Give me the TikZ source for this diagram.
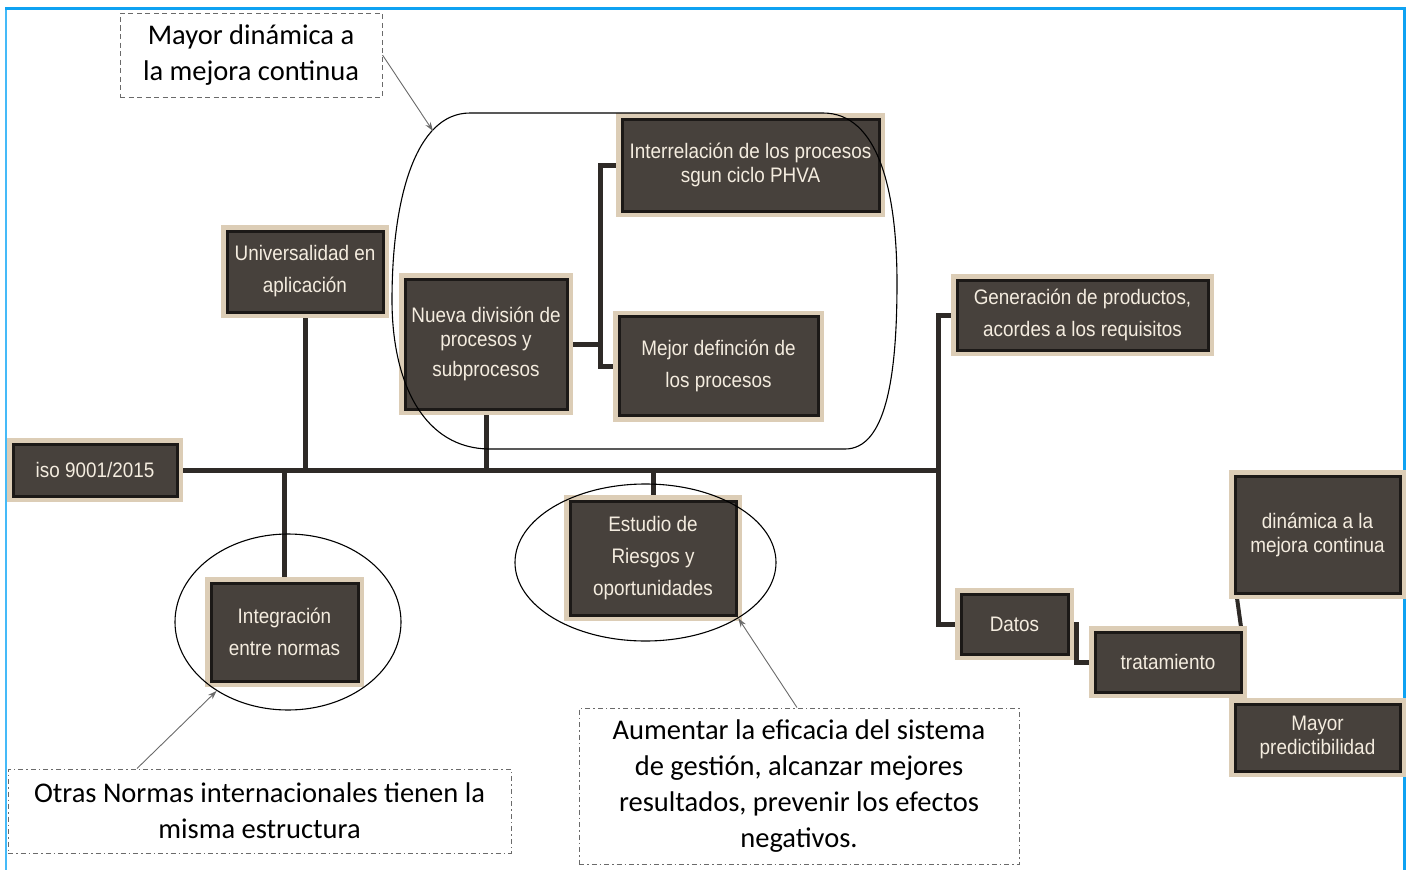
\documentclass[tikz,border=0pt]{standalone}
\usepackage{fontspec}
\setmainfont{Carlito}
\newfontfamily\boxfont[FakeStretch=0.9]{Liberation Sans}
\usetikzlibrary{shapes.geometric,arrows.meta,calc}
\pgfdeclarelayer{background}
\pgfsetlayers{background,main}

\definecolor{boxfill}{HTML}{47413C}
\definecolor{boxedge}{HTML}{1C1917}
\definecolor{boxrim}{HTML}{DCCDB6}
\definecolor{boxtext}{HTML}{F4ECDF}
\definecolor{wire}{HTML}{2E2A27}
\definecolor{frameblue}{HTML}{0EA2F2}
\definecolor{frameleft}{HTML}{45BAF8}
\definecolor{notegray}{HTML}{6A6A6A}

\tikzset{
  topic/.style={draw=boxedge, line width=3pt, fill=boxfill, text=boxtext,
    align=center, inner sep=0pt,
    font=\boxfont\fontsize{21}{24}\selectfont,
    preaction={draw=boxrim, line width=12pt, rounded corners=3pt}},
  wideline/.style={font=\boxfont\fontsize{21}{32}\selectfont},
  wire/.style={draw=wire, line width=5pt},
  ring/.style={draw=black, line width=1.1pt},
  ringnode/.style={ring, ellipse, inner sep=0pt},
  notebox/.style={draw=notegray, line width=1pt, align=center, inner sep=0pt,
    font=\fontsize{28.5}{36}\selectfont, text=black},
  dashnote/.style={notebox, dash pattern=on 5pt off 3.5pt},
  dotdashnote/.style={notebox, dash pattern=on 5pt off 3pt on 1.5pt off 3pt},
  pointer/.style={draw=notegray, line width=0.9pt, -{Stealth[length=9pt,width=6pt]}},
}

\begin{document}
\begin{tikzpicture}[x=1pt,y=-1pt]
\useasboundingbox (0,0) rectangle (1409,870);

% page frame
\draw[frameleft, line width=2pt] (6,870) -- (6,8);
\draw[frameblue, line width=3pt] (5,8) -- (1404,8) -- (1404,870);

% topic boxes
\node[topic, minimum width=164pt, minimum height=52pt] (iso) at (95,470) {iso 9001/2015};
\node[topic, wideline, minimum width=156pt, minimum height=81pt] (univ) at (305,271.5) {Universalidad en\\aplicación};
\node[topic, minimum width=162pt, minimum height=130pt] (nueva) at (486,344) {Nueva división de\\procesos y\\[6pt]subprocesos};
\node[topic, minimum width=257pt, minimum height=92pt] (inter) at (750.5,165) {Interrelación de los procesos\\sgun ciclo PHVA};
\node[topic, wideline, minimum width=199pt, minimum height=99pt] (mejor) at (718.5,366) {Mejor definción de\\los procesos};
\node[topic, wideline, minimum width=251pt, minimum height=70pt] (gen) at (1082.5,315) {Generación de productos,\\acordes a los requisitos};
\node[topic, wideline, minimum width=166pt, minimum height=114pt] (estudio) at (653,558) {Estudio de\\Riesgos y\\oportunidades};
\node[topic, wideline, minimum width=147pt, minimum height=98pt] (integ) at (284.5,632) {Integración\\entre normas};
\node[topic, minimum width=107pt, minimum height=60pt] (datos) at (1014.5,624) {Datos};
\node[topic, minimum width=146pt, minimum height=60pt] (trat) at (1168,662) {tratamiento};
\node[topic, minimum width=165pt, minimum height=117pt] (dinam) at (1317.5,534.5) {dinámica a la\\mejora continua};
\node[topic, minimum width=165pt, minimum height=67pt] (predic) at (1317.5,737.5) {Mayor\\predictibilidad};

% connectors
\coordinate (spineEnd) at (938,470);
\coordinate (split) at (600,344);
\begin{pgfonlayer}{background}
  \draw[wire] (iso.east) -- (spineEnd);
  \draw[wire] (univ.south) -- (univ.south |- spineEnd);
  \draw[wire] (integ.north) -- (integ.north |- spineEnd);
  \draw[wire] (nueva.south) -- (nueva.south |- spineEnd);
  \draw[wire] (estudio.north) -- (estudio.north |- spineEnd);
  \draw[wire] (spineEnd) |- (gen.west);
  \draw[wire] (spineEnd) |- (datos.west);
  \draw[wire] (nueva.east) -- (split) |- (inter.west);
  \draw[wire] (split) |- (mejor.west);
  \draw[wire] (datos.east) -- ++(7,0) |- (trat.west);
  \draw[wire, line width=4pt] ([xshift=-1pt]trat.north east) -- ([xshift=3pt]dinam.south west);
\end{pgfonlayer}

% grouping outlines
\draw[ring] (470,113) -- (823,113)
  .. controls (878,113) and (897,190) .. (897,283)
  .. controls (897,380) and (885,449) .. (845,449)
  -- (490,449)
  .. controls (425,449) and (392,385) .. (392,300)
  .. controls (392,200) and (415,113) .. (470,113) -- cycle;
\coordinate (groupTip) at (433,131);
\node[ringnode, minimum width=261pt, minimum height=157pt] (estRing) at (645.5,562.5) {};
\node[ringnode, minimum width=226pt, minimum height=176pt] (integRing) at (288,622) {};

% notes
\node[dashnote, minimum width=262pt, minimum height=84pt] (noteMejora) at (251,55)
  {Mayor dinámica a\\la mejora continua};
\node[dotdashnote, minimum width=503pt, minimum height=84pt] (noteNormas) at (259.5,811)
  {Otras Normas internacionales tienen la\\misma estructura};
\node[dotdashnote, minimum width=440pt, minimum height=156pt] (noteEficacia) at (799,786)
  {Aumentar la eficacia del sistema\\de gestión, alcanzar mejores\\resultados, prevenir los efectos\\negativos.};

\draw[pointer] (noteMejora.east) -- (groupTip);
\draw[pointer] ([xshift=-122.5pt]noteNormas.north) -- (integRing.-136);
\draw[pointer] ([xshift=-2pt]noteEficacia.north) -- (estRing.-31);
\end{tikzpicture}
\end{document}
